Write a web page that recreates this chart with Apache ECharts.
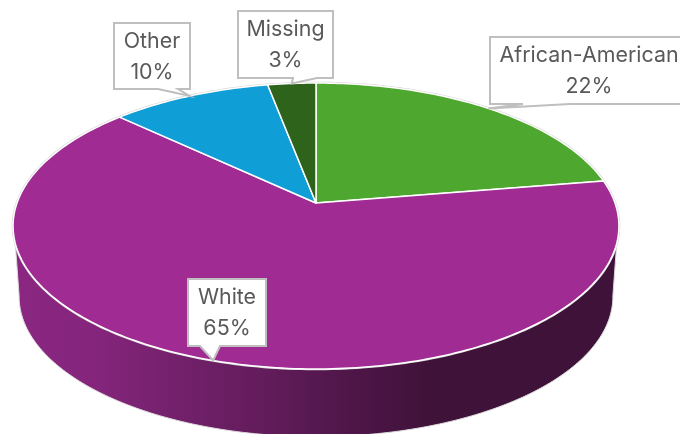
<!DOCTYPE html>
<html>
<head>
    <meta charset="utf-8">
    <title>Pie</title>
    <script src="https://cdn.jsdelivr.net/npm/echarts@6/dist/echarts.min.js"></script>
    <style>
        html, body { margin: 0; padding: 0; background: #fff; overflow: hidden; }
    </style>
</head>
<body>
    <div id="main" style="width: 680px;height:434px;"></div>
    <script type="text/javascript">
        // data, clockwise from 12 o'clock
        var categories = ['African-American', 'White', 'Other', 'Missing'];
        var shares = [22.4, 64.6, 10, 3];
        var sliceColors = ['#4ea72e', '#a02b93', '#0f9ed5', '#2e631b'];

        // tilted disc, perspective projection
        var disc = { cx: 316, cy: 203, a: 299, b: 139.3, k: 0.1608 };
        var wall = { dy: 71, scale: 0.98, topFrom: 106, topTo: 254, bottomFrom: 99, bottomTo: 261 };

        // callout boxes: x0,y0,x1,y1, tail base on the bottom edge
        var boxes = [
            { x0: 490, y0: 37, x1: 692, y1: 104, t0: 523, t1: 570 },
            { x0: 188, y0: 279, x1: 266, y1: 346, t0: 200, t1: 220 },
            { x0: 114, y0: 23, x1: 190, y1: 89, t0: 158, t1: 178 },
            { x0: 238, y0: 11, x1: 333, y1: 78, t0: 293, t1: 317 }
        ];

        function project(deg, scale, dy) {
            var t = deg * Math.PI / 180;
            var u = Math.sin(t), v = Math.cos(t), w = 1 + disc.k * v;
            return [
                disc.cx + scale * disc.a * u / w,
                disc.cy + dy - scale * disc.b * v / w
            ];
        }

        function arcPoints(from, to, scale, dy) {
            var pts = [];
            var n = Math.max(2, Math.ceil(Math.abs(to - from)));
            for (var i = 0; i <= n; i++) {
                pts.push(project(from + (to - from) * i / n, scale, dy));
            }
            return pts;
        }

        // start/end angle of each slice
        var total = shares.reduce(function (s, x) { return s + x; }, 0);
        var angles = [];
        var acc = 0;
        shares.forEach(function (x) {
            angles.push([acc / total * 360, (acc + x) / total * 360]);
            acc += x;
        });

        var source = categories.map(function (c, i) { return [c, shares[i]]; });

        var myChart = echarts.init(document.getElementById('main'));

        var option = {
            animation: false,
            backgroundColor: '#fff',
            dataset: { source: source },
            series: [
                {
                    // side wall, only the slice that holds the front of the disc has one
                    type: 'custom',
                    coordinateSystem: 'none',
                    silent: true,
                    renderItem: function (params) {
                        var a = angles[params.dataIndex];
                        if (a[0] > wall.bottomFrom || a[1] < wall.bottomTo) return { type: 'group', children: [] };
                        var top = arcPoints(wall.topFrom, wall.topTo, 1, 0);
                        var bottom = arcPoints(wall.bottomTo, wall.bottomFrom, wall.scale, wall.dy);
                        return {
                            type: 'polygon',
                            shape: { points: top.concat(bottom) },
                            style: {
                                fill: new echarts.graphic.LinearGradient(0, 0, 1, 0, [
                                    { offset: 0, color: '#8b2782' },
                                    { offset: 0.14, color: '#84257b' },
                                    { offset: 0.26, color: '#74216c' },
                                    { offset: 0.41, color: '#631c5c' },
                                    { offset: 0.56, color: '#4e1648' },
                                    { offset: 0.69, color: '#3f1239' },
                                    { offset: 1, color: '#3f1239' }
                                ]),
                                stroke: '#dcdcdc',
                                lineWidth: 1
                            }
                        };
                    }
                },
                {
                    // top face
                    type: 'custom',
                    coordinateSystem: 'none',
                    silent: true,
                    renderItem: function (params) {
                        var a = angles[params.dataIndex];
                        var arc = arcPoints(a[0], a[1], 1, 0);
                        var pts = [[disc.cx, disc.cy]].concat(arc);
                        return {
                            type: 'group',
                            children: [
                                {
                                    type: 'polyline',
                                    shape: { points: arc },
                                    style: { fill: 'none', stroke: '#d4d4d4', lineWidth: 2.6 }
                                },
                                {
                                    type: 'polygon',
                                    shape: { points: pts },
                                    style: {
                                        fill: sliceColors[params.dataIndex],
                                        stroke: '#fff',
                                        lineWidth: 1.5,
                                        lineJoin: 'round'
                                    }
                                }
                            ]
                        };
                    }
                },
                {
                    // callouts, tail points at the rim in the middle of the slice
                    type: 'custom',
                    coordinateSystem: 'none',
                    silent: true,
                    renderItem: function (params, api) {
                        var i = params.dataIndex;
                        var b = boxes[i];
                        var tip = project((angles[i][0] + angles[i][1]) / 2, 1, 0);
                        return {
                            type: 'group',
                            children: [
                                {
                                    type: 'polygon',
                                    shape: {
                                        points: [
                                            [b.x0, b.y0], [b.x1, b.y0], [b.x1, b.y1],
                                            [b.t1, b.y1], tip, [b.t0, b.y1], [b.x0, b.y1]
                                        ]
                                    },
                                    style: { fill: '#fff', stroke: '#bfbfbf', lineWidth: 2 }
                                },
                                {
                                    type: 'text',
                                    style: {
                                        text: api.value(0) + '\n' + Math.round(api.value(1)) + '%',
                                        x: i === 0 ? 589 : (b.x0 + b.x1) / 2,
                                        y: (b.y0 + b.y1) / 2 + 1,
                                        align: 'center',
                                        verticalAlign: 'middle',
                                        fill: '#595959',
                                        fontFamily: 'Inter',
                                        fontSize: 21.4,
                                        lineHeight: 31
                                    }
                                }
                            ]
                        };
                    }
                }
            ]
        };
        myChart.setOption(option);
    </script>
</body>
</html>
